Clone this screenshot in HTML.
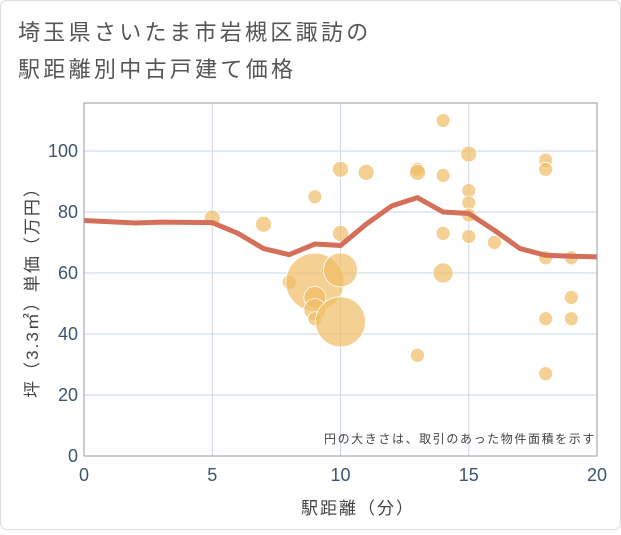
<!DOCTYPE html>
<html><head><meta charset="utf-8"><style>
body{margin:0;background:#fff;}
svg text{font-family:"Liberation Sans","Noto Sans CJK JP",sans-serif;}
</style></head><body>
<svg width="621" height="530" xmlns="http://www.w3.org/2000/svg">
<rect x="0.5" y="0.5" width="620" height="529" rx="6" fill="#fff" stroke="#ddd"/>
<text x="18" y="40" font-size="22" letter-spacing="3.3" fill="#555">埼玉県さいたま市岩槻区諏訪の</text>
<text x="18" y="77" font-size="22" letter-spacing="3.3" fill="#555">駅距離別中古戸建て価格</text>
<g id="grid"></g>
<g id="bubbles"></g>
<g id="line"></g>
<rect x="84" y="103" width="513" height="353" fill="none" stroke="#999" stroke-width="1"/>
<g id="ticks"></g>
<text x="596" y="443" font-size="12" letter-spacing="1.6" fill="#444" text-anchor="end">円の大きさは、取引のあった物件面積を示す</text>
<text x="358" y="514" font-size="17" letter-spacing="2" fill="#444" text-anchor="middle">駅距離（分）</text>
<text transform="translate(38,288) rotate(-90)" font-size="17" letter-spacing="2" fill="#444" text-anchor="middle">坪（3.3㎡）単価（万円）</text>
</svg>
<script>
const xTicks=[0,5,10,15,20];
const yTicks=[0,20,40,60,80,100];
const bubbleX=[5,7,8,9,9,9,9,9,10,10,10,10,11,13,13,13,14,14,14,14,15,15,15,15,15,16,18,18,18,18,18,19,19,19];
const bubbleY=[78,76,57,85,57,52,48,45,94,73,61,44,93,94,93,33,110,92,73,60,99,87,83,79,72,70,97,94,65,45,27,65,52,45];
const bubbleR=[8,8,7,7,29,11,11,7,8,8,17,25,8,7,8,7,7,7,7,10,8,7,7,7,7,7,7,7,7,7,7,7,7,7];
const lineX=[0,1,2,3,4,5,6,7,8,9,10,11,12,13,14,15,16,17,18,19,20];
const lineY=[77.2,76.8,76.4,76.7,76.6,76.5,73,68,66,69.5,69,76,82,84.7,80,79.5,74,68,65.8,65.5,65.3];
const NS="http://www.w3.org/2000/svg";
const sx=v=>84+v*(513/20);
const sy=v=>456-v*3.05;
const grid=document.getElementById('grid'),ticks=document.getElementById('ticks');
xTicks.forEach(t=>{
 const l=document.createElementNS(NS,'line');
 
 
 l.setAttribute('x1',sx(t));l.setAttribute('x2',sx(t));l.setAttribute('y1',103);l.setAttribute('y2',456);
 l.setAttribute('stroke','#c8d6e5');grid.appendChild(l);
 const tx=document.createElementNS(NS,'text');
 
 
 tx.setAttribute('x',sx(t));tx.setAttribute('y',481);tx.setAttribute('text-anchor','middle');
 tx.setAttribute('font-size','18');tx.setAttribute('fill','#3d5570');tx.textContent=t;ticks.appendChild(tx);
});
yTicks.forEach(t=>{
 const l=document.createElementNS(NS,'line');
 
 
 l.setAttribute('x1',84);l.setAttribute('x2',597);l.setAttribute('y1',sy(t));l.setAttribute('y2',sy(t));
 l.setAttribute('stroke','#c8d6e5');grid.appendChild(l);
 const tx=document.createElementNS(NS,'text');
 
 
 tx.setAttribute('x',78);tx.setAttribute('y',sy(t)+6);tx.setAttribute('text-anchor','end');
 tx.setAttribute('font-size','18');tx.setAttribute('fill','#3d5570');tx.textContent=t;ticks.appendChild(tx);
});
const bg=document.getElementById('bubbles');
bubbleX.forEach((x,i)=>{
 const c=document.createElementNS(NS,'circle');
 
 
 c.setAttribute('cx',sx(x));c.setAttribute('cy',sy(bubbleY[i]));c.setAttribute('r',bubbleR[i]);
 c.setAttribute('fill','rgba(240,190,100,0.7)');c.setAttribute('stroke','#fff');c.setAttribute('stroke-width','0.8');
 bg.appendChild(c);
});
const p=document.createElementNS(NS,'polyline');


p.setAttribute('points',lineX.map((x,i)=>sx(x)+','+sy(lineY[i])).join(' '));
p.setAttribute('fill','none');p.setAttribute('stroke','#d4705a');p.setAttribute('stroke-width','5');p.setAttribute('stroke-linejoin','round');
document.getElementById('line').appendChild(p);
</script>
</body></html>
